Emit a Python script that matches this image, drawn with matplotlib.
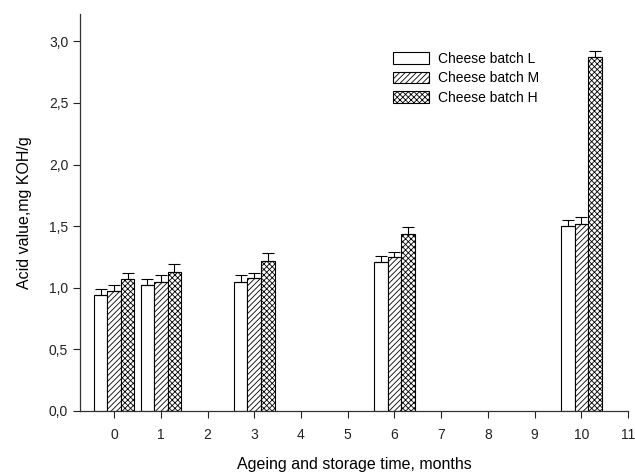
import numpy as np
import matplotlib.pyplot as plt
from matplotlib.ticker import FuncFormatter

plt.rcParams['font.family'] = ['Liberation Sans', 'DejaVu Sans']
plt.rcParams['hatch.linewidth'] = 0.6

months = [0, 1, 3, 6, 10]
batch_L = [0.94, 1.02, 1.05, 1.21, 1.50]
batch_M = [0.975, 1.05, 1.08, 1.25, 1.52]
batch_H = [1.07, 1.13, 1.22, 1.44, 2.87]
err_L = [0.05, 0.05, 0.05, 0.05, 0.05]
err_M = [0.05, 0.05, 0.04, 0.04, 0.05]
err_H = [0.05, 0.06, 0.06, 0.05, 0.05]
labels = ['Cheese batch L', 'Cheese batch M', 'Cheese batch H']

fig = plt.figure(figsize=(6.35, 4.75), dpi=100)
ax = fig.add_axes([0.126, 0.135, 0.863, 0.835])

x = np.array(months, dtype=float)
w = 0.29
series = [batch_L, batch_M, batch_H]
errs = [err_L, err_M, err_H]
hatches = [None, '//////', 'xxxxxx']
for i, (vals, e, h, lab) in enumerate(zip(series, errs, hatches, labels)):
    pos = x + (i - 1) * w
    ax.bar(pos, vals, width=w, color='white', edgecolor='black', linewidth=0.8,
           hatch=h, label=lab, zorder=2)
    ax.errorbar(pos, vals, yerr=[np.zeros(len(vals)), e], fmt='none',
                ecolor='black', elinewidth=0.8, capsize=4, capthick=0.8, zorder=3)

ax.set_xlim(-0.73, 11.0)
ax.set_ylim(0, 3.22)
ax.set_xticks(range(0, 12))
ax.set_yticks(np.arange(0, 3.01, 0.5))
ax.yaxis.set_major_formatter(FuncFormatter(lambda v, p: f'{v:.1f}'.replace('.', ',')))
ax.tick_params(direction='out', length=5, width=0.8, labelsize=10, colors='#222222')
ax.tick_params(axis='x', pad=7)
ax.spines['top'].set_visible(False)
ax.spines['right'].set_visible(False)
for s in ['left', 'bottom']:
    ax.spines[s].set_linewidth(0.9)
    ax.spines[s].set_color('#333333')

ax.set_xlabel('Ageing and storage time, months', fontsize=11.5, labelpad=11)
ax.set_ylabel('Acid value,mg KOH/g', fontsize=11.5, labelpad=12)

ax.legend(loc='upper left', bbox_to_anchor=(0.549, 0.937), frameon=False, fontsize=10,
          handlelength=2.6, handleheight=0.9, labelspacing=0.4, handletextpad=0.6)

fig.savefig('out.png', dpi=100)
